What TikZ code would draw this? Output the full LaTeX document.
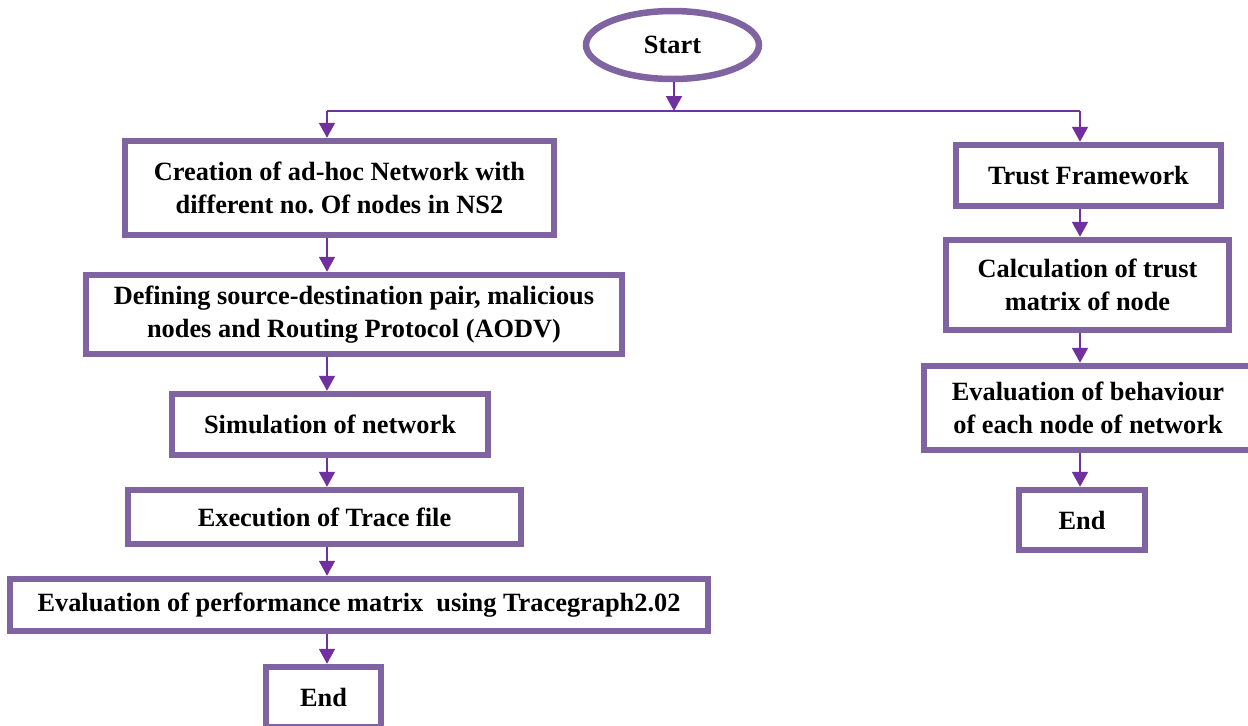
\documentclass[tikz,border=0pt]{standalone}
\usepackage{fontspec}
\setmainfont{Liberation Serif}
\usetikzlibrary{arrows.meta,shapes.geometric}
\definecolor{boxpurple}{HTML}{8064A2}
\definecolor{arrowpurple}{HTML}{7030A0}

\begin{document}
\begin{tikzpicture}[x=0.02cm,y=-0.02cm,
   stepbox/.style={draw=boxpurple,line width=0.13cm,shape=rectangle,fill=white,inner sep=0pt,align=center,
      font=\fontsize{15}{18.7}\selectfont\bfseries},
   flow/.style={draw=arrowpurple,line width=0.04cm,-{Triangle[width=0.32cm,length=0.3cm]}}]
   \useasboundingbox (0,0) rectangle (1248,725);
   \clip (0,0) rectangle (1248,725);

   \path (672.5,45) node[stepbox,shape=ellipse,minimum width=3.46cm,minimum height=1.36cm] (start) {Start};

   % left column
   \path (339.5,188) node[stepbox,minimum width=8.58cm,minimum height=1.88cm] (create)
   {Creation of ad-hoc Network with\\ different no.\ Of nodes in NS2};
   \path (354,314.5) node[stepbox,minimum width=10.72cm,minimum height=1.58cm] (define)
   {Defining source-destination pair, malicious\\ nodes and Routing Protocol (AODV)};
   \path (330,424.5) node[stepbox,minimum width=6.32cm,minimum height=1.22cm] (simul) {Simulation of network};
   \path (324.5,517) node[stepbox,minimum width=7.86cm,minimum height=1.08cm] (trace) {Execution of Trace file};
   \path (359,605) node[stepbox,minimum width=13.96cm,minimum height=1.04cm] (perf)
   {Evaluation of performance matrix \ using Tracegraph2.02};
   \path (323.5,697) node[stepbox,minimum width=2.30cm,minimum height=1.20cm] (endL) {End};

   % right column
   \path (1088.5,175.5) node[stepbox,minimum width=5.30cm,minimum height=1.22cm] (trust) {Trust Framework};
   \path (1087.5,285) node[stepbox,minimum width=5.66cm,minimum height=1.80cm] (calc)
   {Calculation of trust\\ matrix of node};
   \path (1088,408) node[stepbox,minimum width=6.56cm,minimum height=1.68cm] (behav)
   {Evaluation of behaviour\\ of each node of network};
   \path (1082,520) node[stepbox,minimum width=2.52cm,minimum height=1.20cm] (endR) {End};

   \coordinate (fork) at (674,111);
   \coordinate (colL) at (327,111);
   \coordinate (colR) at (1080,111);

   \draw[flow] (fork |- start.south) -- (fork);
   \draw[arrowpurple,line width=0.04cm] (colL) -- (colR);
   \draw[flow] (colL) -- (colL |- create.north);
   \draw[flow] (colL |- create.south) -- (colL |- define.north);
   \draw[flow] (colL |- define.south) -- (colL |- simul.north);
   \draw[flow] (colL |- simul.south) -- (colL |- trace.north);
   \draw[flow] (colL |- trace.south) -- (colL |- perf.north);
   \draw[flow] (colL |- perf.south) -- (colL |- endL.north);

   \draw[flow] (colR) -- (colR |- trust.north);
   \draw[flow] (colR |- trust.south) -- (colR |- calc.north);
   \draw[flow] (colR |- calc.south) -- (colR |- behav.north);
   \draw[flow] (colR |- behav.south) -- (colR |- endR.north);
\end{tikzpicture}
\end{document}
